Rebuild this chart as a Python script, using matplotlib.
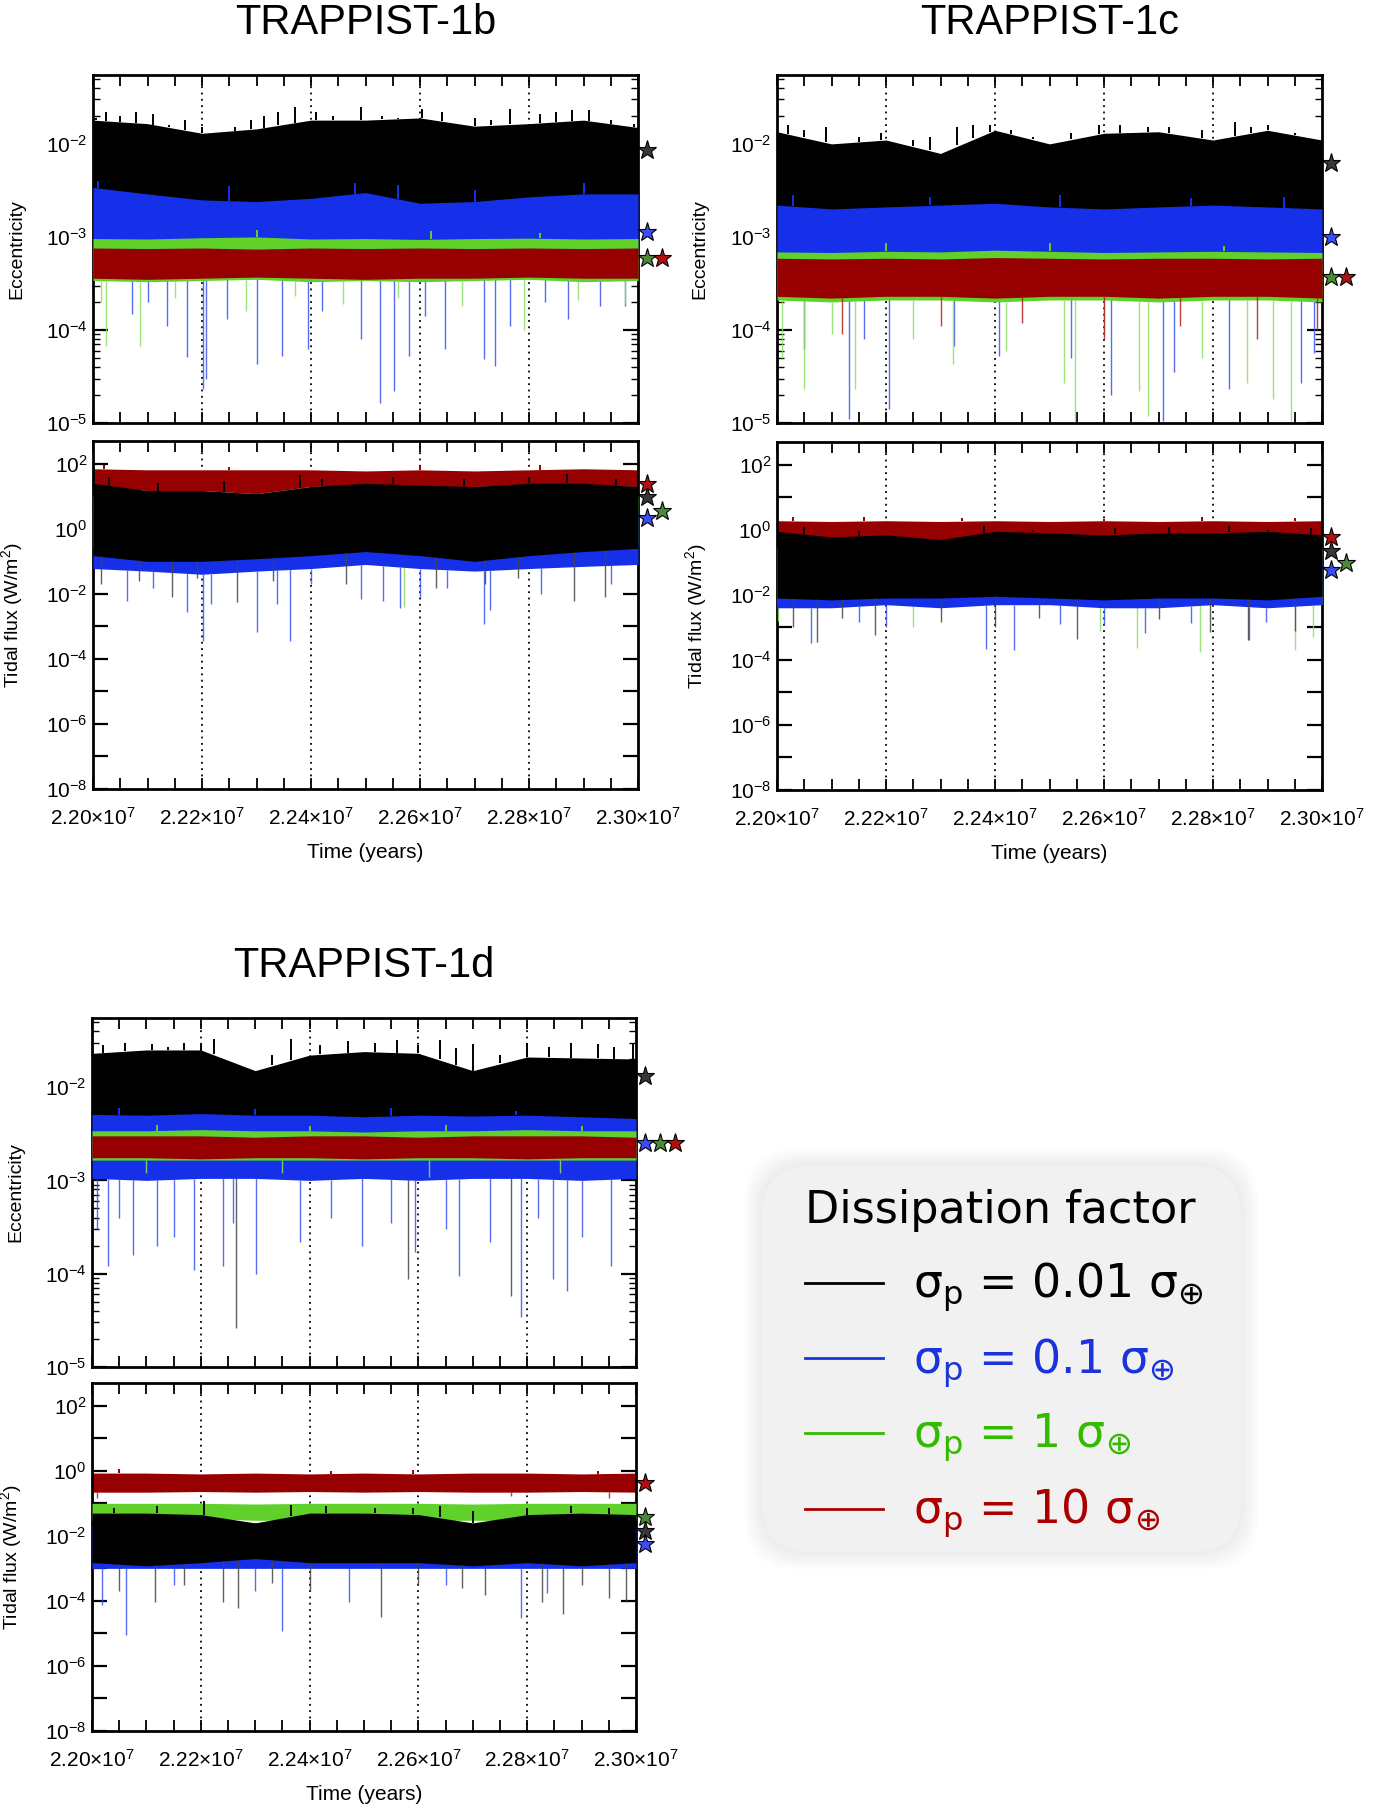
import numpy as np
import matplotlib
matplotlib.use('Agg')
import matplotlib.pyplot as plt
import matplotlib.transforms as mtransforms
from matplotlib import font_manager
from matplotlib.patches import FancyBboxPatch
from matplotlib.ticker import MultipleLocator, LogLocator, FixedLocator, FuncFormatter, NullFormatter

# ---------------- data ----------------
times = [2.20e7, 2.21e7, 2.22e7, 2.23e7, 2.24e7, 2.25e7, 2.26e7, 2.27e7, 2.28e7, 2.29e7, 2.30e7]
sigma_values = ['0.01', '0.1', '1', '10']
dotted_times = [2.22e7, 2.24e7, 2.26e7, 2.28e7]

# each *_hi / *_lo holds the band envelope of the four runs (0.01, 0.1, 1, 10)
ecc_b_hi = [[1.8e-2, 1.65e-2, 1.3e-2, 1.45e-2, 1.8e-2, 1.8e-2, 1.9e-2, 1.55e-2, 1.65e-2, 1.8e-2, 1.5e-2],
            [3.4e-3, 2.9e-3, 2.5e-3, 2.4e-3, 2.6e-3, 3.0e-3, 2.3e-3, 2.4e-3, 2.7e-3, 2.9e-3, 2.9e-3],
            [9.6e-4, 9.5e-4, 9.8e-4, 1.0e-3, 9.5e-4, 9.6e-4, 9.4e-4, 9.6e-4, 9.7e-4, 9.5e-4, 9.6e-4],
            [7.6e-4, 7.5e-4, 7.6e-4, 7.4e-4, 7.6e-4, 7.5e-4, 7.6e-4, 7.5e-4, 7.6e-4, 7.5e-4, 7.6e-4]]
ecc_b_lo = [[2.4e-3, 2.2e-3, 2.0e-3, 2.1e-3, 2.4e-3, 2.2e-3, 2.0e-3, 2.2e-3, 2.3e-3, 2.2e-3, 2.5e-3],
            [6.5e-4, 6.4e-4, 6.5e-4, 6.3e-4, 6.5e-4, 6.4e-4, 6.5e-4, 6.4e-4, 6.5e-4, 6.3e-4, 6.5e-4],
            [3.4e-4, 3.3e-4, 3.4e-4, 3.5e-4, 3.3e-4, 3.4e-4, 3.3e-4, 3.4e-4, 3.5e-4, 3.3e-4, 3.4e-4],
            [3.6e-4, 3.5e-4, 3.6e-4, 3.7e-4, 3.6e-4, 3.5e-4, 3.6e-4, 3.6e-4, 3.7e-4, 3.6e-4, 3.6e-4]]
ecc_b_peaks = [[(2.2023e7, 2.2e-2), (2.2079e7, 2.2e-2), (2.2168e7, 1.8e-2), (2.2313e7, 2.0e-2),
                (2.2370e7, 2.5e-2), (2.2410e7, 2.2e-2), (2.2491e7, 2.5e-2), (2.2604e7, 2.4e-2),
                (2.2766e7, 2.4e-2), (2.2879e7, 2.3e-2), (2.2992e7, 1.65e-2), (2.2140e7, 1.6e-2),
                (2.2005e7, 1.9e-2), (2.2050e7, 2.0e-2), (2.2110e7, 2.1e-2), (2.2200e7, 1.5e-2),
                (2.2260e7, 1.5e-2), (2.2290e7, 1.8e-2), (2.2340e7, 2.2e-2), (2.2440e7, 2.0e-2),
                (2.2530e7, 2.0e-2), (2.2560e7, 1.9e-2), (2.2640e7, 2.2e-2), (2.2700e7, 1.9e-2),
                (2.2730e7, 1.8e-2), (2.2820e7, 2.1e-2), (2.2850e7, 2.2e-2), (2.2910e7, 2.3e-2),
                (2.2950e7, 1.8e-2)],
               [(2.2010e7, 4.0e-3), (2.2250e7, 3.5e-3), (2.2480e7, 3.8e-3), (2.2700e7, 3.2e-3),
                (2.2560e7, 3.6e-3), (2.2900e7, 3.8e-3)],
               [(2.2300e7, 1.2e-3), (2.2620e7, 1.15e-3), (2.2820e7, 1.1e-3)], []]
ecc_b_dips = [[],
              [(2.2071e7, 1.5e-4), (2.2136e7, 1.1e-4), (2.2172e7, 5.1e-5), (2.2202e7, 2.3e-5),
               (2.2208e7, 3.0e-5), (2.2245e7, 1.3e-4), (2.2301e7, 4.3e-5), (2.2346e7, 5.3e-5),
               (2.2394e7, 6.2e-5), (2.2491e7, 8.0e-5), (2.2527e7, 1.65e-5), (2.2552e7, 2.2e-5),
               (2.2580e7, 5.3e-5), (2.2645e7, 6.2e-5), (2.2717e7, 4.9e-5), (2.2737e7, 4.1e-5),
               (2.2766e7, 1.1e-4), (2.2871e7, 1.3e-4), (2.2931e7, 1.8e-4), (2.2976e7, 1.8e-4),
               (2.2100e7, 2.0e-4), (2.2420e7, 1.6e-4), (2.2610e7, 1.4e-4), (2.2830e7, 2.0e-4)],
              [(2.2023e7, 6.7e-5), (2.2086e7, 6.7e-5), (2.2790e7, 1.0e-4), (2.2015e7, 2.0e-4),
               (2.2281e7, 1.6e-4), (2.2459e7, 1.9e-4), (2.2677e7, 1.8e-4), (2.2976e7, 1.9e-4),
               (2.2150e7, 2.2e-4), (2.2370e7, 2.3e-4), (2.2560e7, 2.2e-4), (2.2890e7, 2.1e-4)],
              []]
ecc_b_stars = [8.6e-3, 1.12e-3, 6.0e-4, 6.0e-4]

flux_b_hi = [[25, 15, 15, 12, 20, 25, 22, 20, 25, 25, 20],
             [3, 2, 2, 2, 5, 4, 4, 3, 3, 3, 3],
             [10, 8, 8, 8, 10, 10, 10, 10, 10, 10, 10],
             [70, 65, 65, 65, 65, 60, 65, 60, 65, 70, 65]]
flux_b_lo = [[0.15, 0.1, 0.1, 0.12, 0.15, 0.2, 0.15, 0.1, 0.15, 0.2, 0.25],
             [0.06, 0.05, 0.04, 0.05, 0.06, 0.08, 0.06, 0.05, 0.06, 0.07, 0.08],
             [0.25, 0.2, 0.2, 0.2, 0.25, 0.3, 0.25, 0.2, 0.25, 0.3, 0.3],
             [22, 15, 15, 12, 20, 22, 20, 20, 22, 22, 20]]
flux_b_peaks = [[(2.2030e7, 40), (2.2120e7, 25), (2.2240e7, 30), (2.2380e7, 45), (2.2420e7, 35),
                 (2.2550e7, 40), (2.2680e7, 35), (2.2800e7, 40), (2.2870e7, 50), (2.2960e7, 35)],
                [], [],
                [(2.2020e7, 90), (2.2250e7, 80), (2.2600e7, 85), (2.2820e7, 90)]]
flux_b_dips = [[(2.2015e7, 2.0e-2), (2.2145e7, 7.8e-3), (2.2265e7, 5.5e-3), (2.2883e7, 6.0e-3),
                (2.2939e7, 8.0e-3), (2.2085e7, 2.5e-2), (2.2465e7, 2.0e-2), (2.2630e7, 1.5e-2),
                (2.2780e7, 3.0e-2), (2.2190e7, 3.0e-2), (2.2330e7, 2.5e-2), (2.2720e7, 2.0e-2)],
               [(2.2063e7, 6.2e-3), (2.2172e7, 2.7e-3), (2.2202e7, 3.6e-4), (2.2216e7, 5.0e-3),
                (2.2301e7, 6.6e-4), (2.2338e7, 5.0e-3), (2.2362e7, 3.6e-4), (2.2491e7, 7.0e-3),
                (2.2532e7, 6.2e-3), (2.2564e7, 3.8e-3), (2.2717e7, 1.2e-3), (2.2729e7, 3.2e-3),
                (2.2822e7, 1.0e-2), (2.2400e7, 2.0e-2), (2.2650e7, 1.5e-2), (2.2110e7, 1.5e-2),
                (2.2600e7, 8.0e-3), (2.2950e7, 2.0e-2)],
               [(2.2020e7, 0.2), (2.2900e7, 0.1), (2.2570e7, 4.0e-3)],
               []]
flux_b_stars = [9.4, 2.2, 3.6, 24]

ecc_c_hi = [[1.35e-2, 1.0e-2, 1.1e-2, 7.9e-3, 1.4e-2, 1.0e-2, 1.3e-2, 1.35e-2, 1.1e-2, 1.4e-2, 1.1e-2],
            [2.2e-3, 2.0e-3, 2.1e-3, 2.2e-3, 2.3e-3, 2.1e-3, 2.0e-3, 2.1e-3, 2.2e-3, 2.1e-3, 2.0e-3],
            [6.9e-4, 6.8e-4, 7.0e-4, 6.9e-4, 7.2e-4, 7.0e-4, 6.8e-4, 6.9e-4, 7.0e-4, 6.9e-4, 6.8e-4],
            [5.9e-4, 5.8e-4, 5.9e-4, 5.8e-4, 6.0e-4, 5.9e-4, 5.8e-4, 5.9e-4, 5.9e-4, 5.8e-4, 5.9e-4]]
ecc_c_lo = [[1.6e-3, 1.5e-3, 1.6e-3, 1.5e-3, 1.6e-3, 1.6e-3, 1.5e-3, 1.6e-3, 1.6e-3, 1.5e-3, 1.6e-3],
            [5.5e-4, 5.4e-4, 5.5e-4, 5.4e-4, 5.5e-4, 5.5e-4, 5.4e-4, 5.5e-4, 5.4e-4, 5.5e-4, 5.5e-4],
            [2.1e-4, 2.0e-4, 2.1e-4, 2.1e-4, 2.0e-4, 2.1e-4, 2.1e-4, 2.0e-4, 2.1e-4, 2.1e-4, 2.0e-4],
            [2.3e-4, 2.2e-4, 2.3e-4, 2.3e-4, 2.2e-4, 2.3e-4, 2.3e-4, 2.2e-4, 2.3e-4, 2.3e-4, 2.2e-4]]
ecc_c_peaks = [[(2.2020e7, 1.6e-2), (2.2090e7, 1.5e-2), (2.2330e7, 1.5e-2), (2.2390e7, 1.6e-2),
                (2.2590e7, 1.6e-2), (2.2680e7, 1.5e-2), (2.2840e7, 1.7e-2), (2.2900e7, 1.6e-2),
                (2.2250e7, 1.1e-2), (2.2470e7, 1.2e-2), (2.2050e7, 1.4e-2), (2.2150e7, 1.2e-2),
                (2.2190e7, 1.3e-2), (2.2280e7, 1.2e-2), (2.2360e7, 1.6e-2), (2.2430e7, 1.4e-2),
                (2.2540e7, 1.3e-2), (2.2630e7, 1.6e-2), (2.2720e7, 1.5e-2), (2.2780e7, 1.4e-2),
                (2.2870e7, 1.5e-2), (2.2950e7, 1.3e-2)],
               [(2.2030e7, 2.8e-3), (2.2280e7, 2.7e-3), (2.2520e7, 2.8e-3), (2.2760e7, 2.6e-3),
                (2.2930e7, 2.7e-3)],
               [(2.2200e7, 8.5e-4), (2.2500e7, 8.5e-4), (2.2820e7, 8.0e-4)], []]
ecc_c_dips = [[],
              [(2.2133e7, 1.1e-5), (2.2205e7, 1.4e-5), (2.2050e7, 6.2e-5), (2.2407e7, 5.3e-5),
               (2.2612e7, 2.0e-5), (2.2709e7, 1.05e-5), (2.2729e7, 3.5e-5), (2.2830e7, 2.3e-5),
               (2.2962e7, 2.7e-5), (2.2986e7, 5.7e-5), (2.2325e7, 6.8e-5), (2.2540e7, 5.0e-5),
               (2.2160e7, 8.0e-5)],
              [(2.2050e7, 2.3e-5), (2.2143e7, 2.3e-5), (2.2323e7, 4.3e-5), (2.2527e7, 2.7e-5),
               (2.2547e7, 1.05e-5), (2.2681e7, 1.2e-5), (2.2862e7, 2.7e-5), (2.2911e7, 1.8e-5),
               (2.2943e7, 1.05e-5), (2.2665e7, 2.2e-5), (2.2010e7, 5.0e-5), (2.2420e7, 6.0e-5),
               (2.2780e7, 5.0e-5), (2.2100e7, 9.0e-5), (2.2250e7, 8.0e-5), (2.2600e7, 9.0e-5)],
              [(2.2120e7, 9.0e-5), (2.2600e7, 8.0e-5), (2.2880e7, 8.0e-5), (2.2990e7, 1.0e-4),
               (2.2300e7, 1.1e-4), (2.2450e7, 1.2e-4), (2.2740e7, 1.1e-4)]]
ecc_c_stars = [6.2e-3, 1.0e-3, 3.7e-4, 3.7e-4]

flux_c_hi = [[0.9, 0.6, 0.7, 0.5, 0.9, 0.8, 0.7, 0.8, 0.8, 0.9, 0.7],
             [0.2, 0.15, 0.15, 0.15, 0.3, 0.2, 0.2, 0.2, 0.2, 0.2, 0.15],
             [0.3, 0.25, 0.25, 0.25, 0.3, 0.3, 0.3, 0.3, 0.3, 0.3, 0.3],
             [1.9, 1.8, 1.9, 1.8, 1.9, 1.8, 1.9, 1.8, 1.9, 1.8, 1.9]]
flux_c_lo = [[8e-3, 7e-3, 8e-3, 8e-3, 9e-3, 8e-3, 7e-3, 8e-3, 8e-3, 7e-3, 9e-3],
             [4e-3, 4e-3, 5e-3, 4e-3, 5e-3, 5e-3, 4e-3, 4e-3, 5e-3, 4e-3, 5e-3],
             [5e-3, 5e-3, 5e-3, 5e-3, 5e-3, 5e-3, 5e-3, 5e-3, 5e-3, 5e-3, 5e-3],
             [0.55, 0.45, 0.5, 0.45, 0.55, 0.5, 0.5, 0.45, 0.5, 0.55, 0.5]]
flux_c_peaks = [[(2.2050e7, 1.2), (2.2150e7, 0.9), (2.2380e7, 1.3), (2.2470e7, 1.0), (2.2620e7, 1.1),
                 (2.2720e7, 1.2), (2.2830e7, 1.3), (2.2900e7, 1.0), (2.2980e7, 1.1)],
                [], [],
                [(2.2030e7, 2.5), (2.2160e7, 2.4), (2.2340e7, 2.3), (2.2600e7, 2.2), (2.2780e7, 2.4),
                 (2.2950e7, 2.3)]]
flux_c_dips = [[(2.2074e7, 3.5e-4), (2.2180e7, 6.0e-4), (2.2550e7, 4.5e-4), (2.2865e7, 4.0e-4),
                (2.2795e7, 7.0e-4), (2.2950e7, 8.0e-4), (2.2030e7, 1.0e-3), (2.2400e7, 1.0e-3),
                (2.2120e7, 2.0e-3), (2.2300e7, 1.5e-3), (2.2480e7, 2.0e-3), (2.2700e7, 1.8e-3)],
               [(2.2063e7, 3.2e-4), (2.2383e7, 2.2e-4), (2.2435e7, 2.0e-4), (2.2675e7, 6.5e-4),
                (2.2866e7, 4.0e-4), (2.2898e7, 1.5e-3), (2.2200e7, 1.0e-3), (2.2600e7, 1.2e-3),
                (2.2150e7, 1.5e-3), (2.2520e7, 1.3e-3), (2.2760e7, 1.4e-3)],
               [(2.2660e7, 2.3e-4), (2.2777e7, 1.8e-4), (2.2951e7, 2.0e-4), (2.2592e7, 8.0e-4),
                (2.2984e7, 5.0e-4), (2.2002e7, 1.6e-3), (2.2250e7, 1.0e-3)],
               []]
flux_c_stars = [0.23, 0.057, 0.092, 0.6]

ecc_d_hi = [[2.3e-2, 2.5e-2, 2.5e-2, 1.5e-2, 2.2e-2, 2.4e-2, 2.3e-2, 1.5e-2, 2.1e-2, 2.05e-2, 2.0e-2],
            [5.1e-3, 5.0e-3, 5.2e-3, 5.0e-3, 5.0e-3, 4.8e-3, 5.0e-3, 4.9e-3, 5.0e-3, 4.8e-3, 4.6e-3],
            [3.4e-3, 3.4e-3, 3.5e-3, 3.4e-3, 3.4e-3, 3.3e-3, 3.4e-3, 3.4e-3, 3.5e-3, 3.4e-3, 3.4e-3],
            [3.0e-3, 3.0e-3, 3.0e-3, 2.9e-3, 3.0e-3, 3.0e-3, 2.9e-3, 3.0e-3, 3.0e-3, 3.0e-3, 2.9e-3]]
ecc_d_lo = [[4.5e-3, 4.5e-3, 4.6e-3, 4.5e-3, 4.5e-3, 4.4e-3, 4.5e-3, 4.5e-3, 4.6e-3, 4.5e-3, 4.5e-3],
            [1.05e-3, 1.0e-3, 1.05e-3, 1.05e-3, 1.0e-3, 1.05e-3, 1.0e-3, 1.05e-3, 1.05e-3, 1.0e-3, 1.05e-3],
            [1.65e-3, 1.65e-3, 1.65e-3, 1.65e-3, 1.65e-3, 1.65e-3, 1.65e-3, 1.65e-3, 1.65e-3, 1.65e-3, 1.65e-3],
            [1.75e-3, 1.75e-3, 1.7e-3, 1.75e-3, 1.75e-3, 1.7e-3, 1.75e-3, 1.75e-3, 1.7e-3, 1.75e-3, 1.75e-3]]
ecc_d_peaks = [[(2.2060e7, 3.0e-2), (2.2170e7, 3.0e-2), (2.2225e7, 3.3e-2), (2.2365e7, 3.3e-2),
                (2.2470e7, 3.1e-2), (2.2560e7, 3.2e-2), (2.2640e7, 3.2e-2), (2.2700e7, 2.9e-2),
                (2.2800e7, 3.0e-2), (2.2880e7, 3.0e-2), (2.2930e7, 2.9e-2), (2.2995e7, 3.0e-2),
                (2.2020e7, 2.8e-2), (2.2110e7, 2.9e-2), (2.2140e7, 2.7e-2), (2.2200e7, 2.9e-2),
                (2.2270e7, 1.8e-2), (2.2330e7, 2.2e-2), (2.2420e7, 2.8e-2), (2.2520e7, 3.0e-2),
                (2.2600e7, 2.8e-2), (2.2670e7, 2.6e-2), (2.2750e7, 2.2e-2), (2.2840e7, 2.7e-2),
                (2.2960e7, 2.7e-2)],
               [(2.2050e7, 6.0e-3), (2.2300e7, 5.8e-3), (2.2550e7, 5.9e-3), (2.2780e7, 5.6e-3)],
               [(2.2120e7, 3.9e-3), (2.2400e7, 3.8e-3), (2.2650e7, 3.9e-3), (2.2900e7, 3.8e-3)], []]
ecc_d_dips = [[(2.2265e7, 2.6e-5), (2.2581e7, 8.7e-5), (2.2771e7, 5.7e-5)],
              [(2.2030e7, 1.2e-4), (2.2119e7, 2.0e-4), (2.2188e7, 1.1e-4), (2.2241e7, 1.2e-4),
               (2.2301e7, 1.0e-4), (2.2382e7, 2.2e-4), (2.2593e7, 1.7e-4), (2.2674e7, 9.5e-5),
               (2.2788e7, 3.4e-5), (2.2848e7, 8.7e-5), (2.2873e7, 6.5e-5), (2.2954e7, 1.2e-4),
               (2.2010e7, 3.0e-4), (2.2075e7, 1.6e-4), (2.2496e7, 2.0e-4), (2.2731e7, 2.2e-4),
               (2.2150e7, 2.5e-4), (2.2650e7, 3.0e-4), (2.2900e7, 2.5e-4), (2.2050e7, 4.0e-4),
               (2.2260e7, 3.5e-4), (2.2440e7, 4.0e-4), (2.2550e7, 3.5e-4), (2.2820e7, 4.0e-4)],
              [(2.2100e7, 1.2e-3), (2.2350e7, 1.2e-3), (2.2620e7, 1.1e-3), (2.2860e7, 1.2e-3)], []]
ecc_d_stars = [1.3e-2, 2.5e-3, 2.5e-3, 2.5e-3]

flux_d_hi = [[0.05, 0.05, 0.045, 0.025, 0.05, 0.05, 0.045, 0.025, 0.045, 0.05, 0.045],
             [0.02, 0.02, 0.025, 0.025, 0.02, 0.02, 0.02, 0.02, 0.02, 0.02, 0.02],
             [0.1, 0.1, 0.1, 0.095, 0.1, 0.1, 0.1, 0.095, 0.1, 0.1, 0.1],
             [0.85, 0.85, 0.8, 0.85, 0.8, 0.85, 0.8, 0.85, 0.85, 0.8, 0.85]]
flux_d_lo = [[1.5e-3, 1.2e-3, 1.5e-3, 2.0e-3, 1.5e-3, 1.5e-3, 1.5e-3, 1.2e-3, 1.5e-3, 1.2e-3, 1.5e-3],
             [1.0e-3, 1.0e-3, 1.0e-3, 1.0e-3, 1.0e-3, 1.0e-3, 1.0e-3, 1.0e-3, 1.0e-3, 1.0e-3, 1.0e-3],
             [0.03, 0.035, 0.035, 0.03, 0.03, 0.03, 0.03, 0.03, 0.03, 0.03, 0.03],
             [0.22, 0.22, 0.23, 0.22, 0.23, 0.22, 0.23, 0.22, 0.22, 0.23, 0.22]]
flux_d_peaks = [[(2.2205e7, 0.115), (2.2365e7, 0.09), (2.2590e7, 0.07), (2.2700e7, 0.06), (2.2880e7, 0.08),
                 (2.2040e7, 0.07), (2.2120e7, 0.08), (2.2430e7, 0.08), (2.2520e7, 0.07), (2.2640e7, 0.08),
                 (2.2800e7, 0.07), (2.2950e7, 0.07)],
                [], [],
                [(2.2050e7, 1.1), (2.2440e7, 1.0), (2.2590e7, 1.05), (2.2930e7, 1.0)]]
flux_d_dips = [[(2.2241e7, 9.3e-5), (2.2269e7, 6.0e-5), (2.2532e7, 3.1e-5), (2.2865e7, 3.9e-5),
                (2.2982e7, 9.3e-5), (2.2828e7, 9.0e-5), (2.2115e7, 9.0e-5), (2.2723e7, 1.5e-4),
                (2.2050e7, 2.0e-4), (2.2400e7, 2.0e-4), (2.2950e7, 1.2e-4), (2.2170e7, 3.0e-4),
                (2.2330e7, 3.5e-4), (2.2600e7, 3.0e-4), (2.2680e7, 2.5e-4), (2.2900e7, 3.0e-4)],
               [(2.2062e7, 8.9e-6), (2.2350e7, 1.15e-5), (2.2788e7, 3.0e-5), (2.2018e7, 7.4e-5),
                (2.2472e7, 9.5e-5), (2.2836e7, 1.8e-4), (2.2300e7, 2.0e-4), (2.2150e7, 3.0e-4),
                (2.2650e7, 3.0e-4)],
               [],
               [(2.2010e7, 0.15), (2.2770e7, 0.17), (2.2950e7, 0.15)]]
flux_d_stars = [0.0145, 5.6e-3, 0.039, 0.42]

# ---------------- style ----------------
line_colors = ['#000000', '#1530e8', '#5fd12a', '#960000']
spike_colors = ['#444444', '#3a55f0', '#8ee060', '#b02020']
star_colors = ['#383838', '#3b4cf0', '#4a8a35', '#b01010']
legend_colors = ['#000000', '#1a33dd', '#33bb00', '#aa0000']

installed = {f.name for f in font_manager.fontManager.ttflist}
narrow = 'Liberation Sans Narrow' if 'Liberation Sans Narrow' in installed else 'Liberation Sans'
plt.rcParams['font.family'] = ['Liberation Sans', 'DejaVu Sans']
plt.rcParams['mathtext.default'] = 'regular'

W, H = 1378, 1810
fig = plt.figure(figsize=(W / 100, H / 100), dpi=100)


def rect(x0, x1, y0, y1):
    return [x0 / W, 1 - y1 / H, (x1 - x0) / W, (y1 - y0) / H]


def draw_panel(ax, hi, lo, peaks, dips, stars, order, kind, xlabels):
    for rank, i in enumerate(order):
        z = 2 + rank
        ax.fill_between(times, lo[i], hi[i], color=line_colors[i], lw=0, zorder=z)
        for t, v in dips[i]:
            base = np.interp(t, times, lo[i])
            ax.vlines(t, v, base, color=spike_colors[i], lw=1.0, alpha=0.85, zorder=z)
        for t, v in peaks[i]:
            base = np.interp(t, times, hi[i])
            ax.vlines(t, base, v, color=line_colors[i], lw=1.4, zorder=z)
    for t in dotted_times:
        ax.axvline(t, color='k', ls=(0, (1, 2.5)), lw=1.3, zorder=1)

    ax.set_xlim(times[0], times[-1])
    ax.set_yscale('log')
    ax.xaxis.set_major_locator(MultipleLocator(2e5))
    ax.xaxis.set_minor_locator(MultipleLocator(5e4))
    if xlabels:
        ax.xaxis.set_major_formatter(FuncFormatter(lambda v, p: f'{v / 1e7:.2f}×10$^{{7}}$'))
        ax.set_xlabel('Time (years)', fontsize=15)
        ax.xaxis.set_label_coords(0.5, -0.155)
    else:
        ax.xaxis.set_major_formatter(NullFormatter())

    if kind == 'ecc':
        ax.set_ylim(1e-5, 0.055)
        ax.yaxis.set_major_locator(LogLocator(base=10, numticks=10))
        ax.yaxis.set_minor_locator(LogLocator(base=10, subs=np.arange(2, 10), numticks=10))
        ax.yaxis.set_minor_formatter(NullFormatter())
        ax.yaxis.set_major_formatter(FuncFormatter(lambda v, p: f'10$^{{{int(round(np.log10(v)))}}}$'))
        ax.set_ylabel('Eccentricity', fontsize=14)
    else:
        ax.set_ylim(1e-8, 500)
        ax.yaxis.set_major_locator(FixedLocator([10.0 ** k for k in range(-8, 3)]))
        ax.yaxis.set_minor_locator(FixedLocator([]))
        ax.yaxis.set_major_formatter(FuncFormatter(
            lambda v, p: f'10$^{{{int(round(np.log10(v)))}}}$' if int(round(np.log10(v))) % 2 == 0 else ''))
        ax.set_ylabel('Tidal flux (W/m$^{2}$)', fontsize=14)
    ax.yaxis.set_label_coords(-0.125, 0.5)

    ax.tick_params(which='both', direction='in', top=True, right=True, labelsize=15)
    ax.tick_params(axis='x', which='major', length=8, width=1.3, pad=13)
    ax.tick_params(axis='x', which='minor', length=8, width=1.3)
    ax.tick_params(axis='y', which='major', length=11, width=1.6, pad=4)
    ax.tick_params(axis='y', which='minor', length=5, width=1.0)
    for s in ax.spines.values():
        s.set_linewidth(2.0)

    # mean-value stars just outside the right frame
    y0, y1 = ax.get_ylim()
    bbox = ax.get_position()
    px_per_dex = bbox.height * H / (np.log10(y1) - np.log10(y0))
    cols = []
    for i, v in enumerate(stars):
        c = 0
        for j in range(i):
            if abs(np.log10(v) - np.log10(stars[j])) * px_per_dex < 12 and cols[j] >= c:
                c = cols[j] + 1
        cols.append(c)
    for i, v in enumerate(stars):
        tr = ax.get_yaxis_transform() + mtransforms.ScaledTranslation(
            (9 + 15 * cols[i]) / 100, 0, fig.dpi_scale_trans)
        ax.plot([1.0], [v], marker='*', ms=14, mfc=star_colors[i], mec='k', mew=0.8,
                transform=tr, clip_on=False, zorder=10)


ecc_order = [0, 1, 2, 3]
flux_order = [3, 2, 1, 0]

panels = [
    ('TRAPPIST-1b', (93, 638, 75, 423), (93, 638, 441, 789),
     (ecc_b_hi, ecc_b_lo, ecc_b_peaks, ecc_b_dips, ecc_b_stars),
     (flux_b_hi, flux_b_lo, flux_b_peaks, flux_b_dips, flux_b_stars)),
    ('TRAPPIST-1c', (777, 1322, 75, 423), (777, 1322, 442, 790),
     (ecc_c_hi, ecc_c_lo, ecc_c_peaks, ecc_c_dips, ecc_c_stars),
     (flux_c_hi, flux_c_lo, flux_c_peaks, flux_c_dips, flux_c_stars)),
    ('TRAPPIST-1d', (92, 636, 1018, 1367), (92, 636, 1383, 1731),
     (ecc_d_hi, ecc_d_lo, ecc_d_peaks, ecc_d_dips, ecc_d_stars),
     (flux_d_hi, flux_d_lo, flux_d_peaks, flux_d_dips, flux_d_stars)),
]

for title, r_ecc, r_flux, ecc_data, flux_data in panels:
    ax_e = fig.add_axes(rect(*r_ecc))
    draw_panel(ax_e, *ecc_data, ecc_order, 'ecc', False)
    ax_f = fig.add_axes(rect(*r_flux))
    draw_panel(ax_f, *flux_data, flux_order, 'flux', True)
    ax_e.text(0.5, 1 + 52 / (r_ecc[3] - r_ecc[2]), title, transform=ax_e.transAxes,
              ha='center', va='center', fontsize=30, family=[narrow, 'DejaVu Sans'])

# ---------------- legend box ----------------
lax = fig.add_axes(rect(762, 1241, 1166, 1552))
lax.set_xlim(0, 1)
lax.set_ylim(0, 1)
lax.axis('off')
aspect = 479 / 386
for k in range(6):
    pad = 0.006 * (6 - k)
    lax.add_patch(FancyBboxPatch((0, 0), 1, 1, boxstyle=f'round,pad={pad},rounding_size=0.11',
                                 mutation_aspect=aspect, facecolor='0.6', edgecolor='none',
                                 alpha=0.025, clip_on=False, zorder=0))
lax.add_patch(FancyBboxPatch((0, 0), 1, 1, boxstyle='round,pad=0,rounding_size=0.1',
                             mutation_aspect=aspect, facecolor='#f1f1f1', edgecolor='none',
                             clip_on=False, zorder=1))
lax.text(0.09, 0.885, 'Dissipation factor', fontsize=32, family='DejaVu Sans',
         ha='left', va='center', zorder=2)
entry_y = [0.685, 0.49, 0.295, 0.1]
for i, s in enumerate(sigma_values):
    lax.plot([0.09, 0.253], [entry_y[i] + 0.012, entry_y[i] + 0.012], color=legend_colors[i], lw=2, zorder=2)
    lax.text(0.315, entry_y[i], f'$\\sigma_{{p}}$ = {s} $\\sigma_{{\\oplus}}$', color=legend_colors[i],
             fontsize=33, family='DejaVu Sans', ha='left', va='center', zorder=2)

fig.savefig('out.png', dpi=100)
